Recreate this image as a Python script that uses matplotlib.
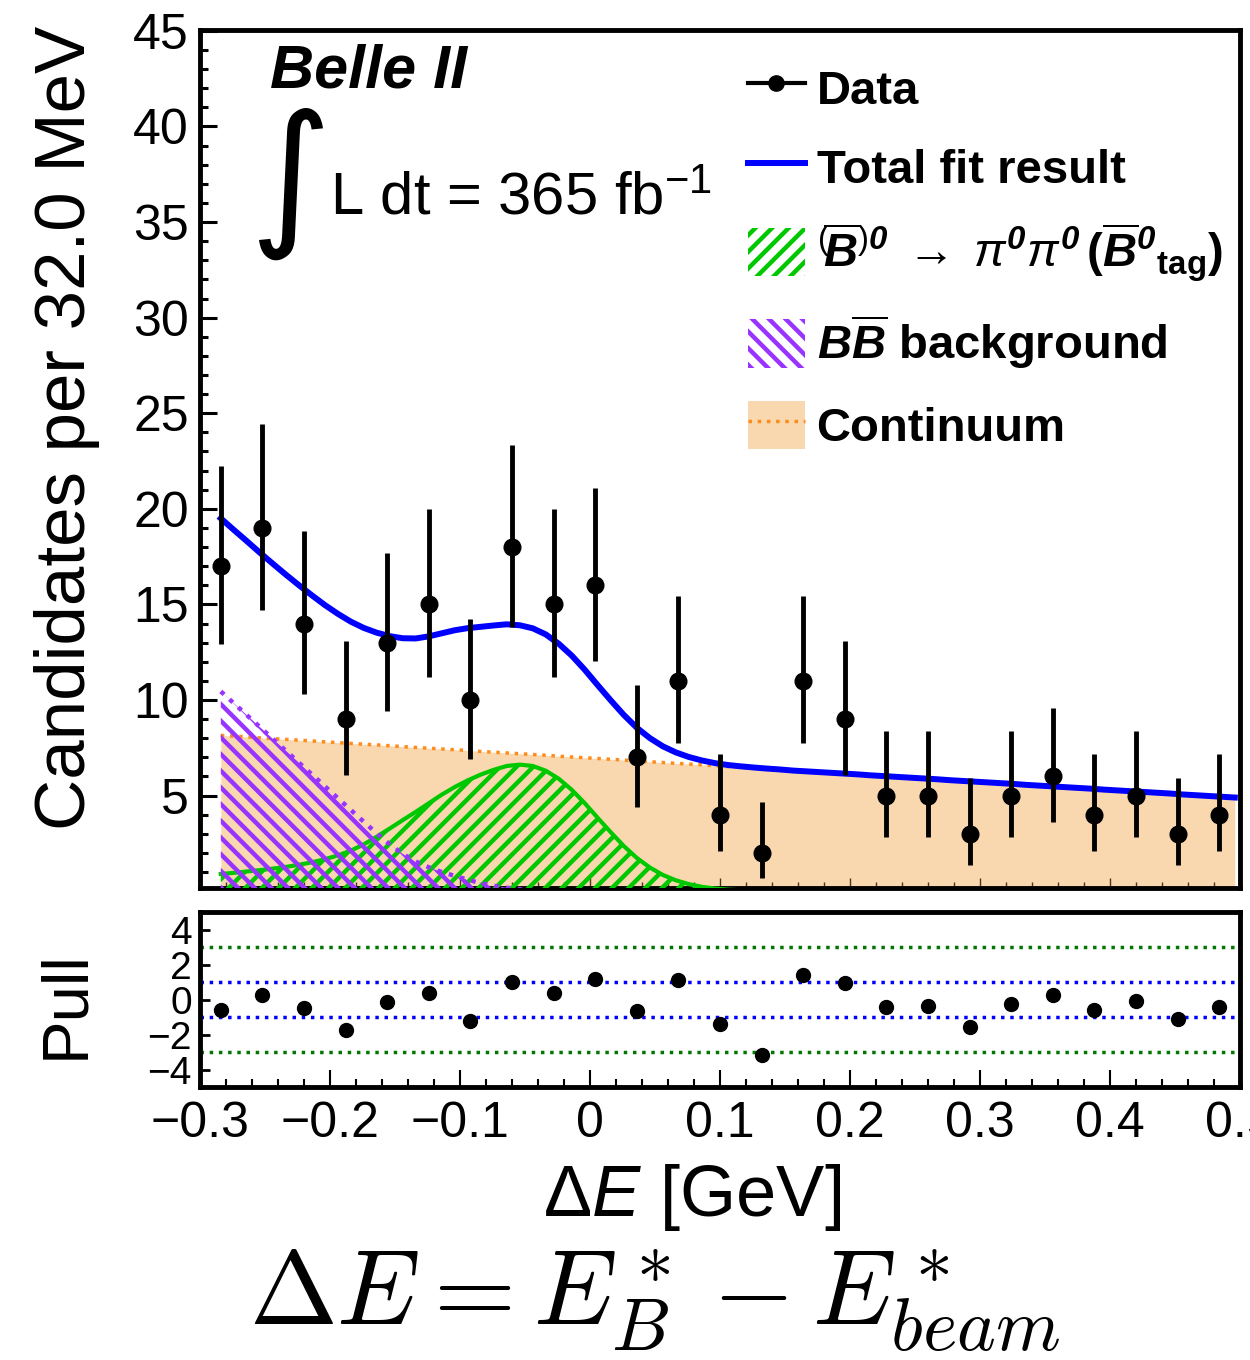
import numpy as np
import matplotlib
matplotlib.use('Agg')
import matplotlib.pyplot as plt
from matplotlib.patches import Patch
from matplotlib.lines import Line2D
from matplotlib.ticker import MultipleLocator

plt.rcParams['font.family'] = ['Liberation Sans', 'DejaVu Sans']
plt.rcParams['mathtext.fontset'] = 'custom'
plt.rcParams['mathtext.rm'] = 'Liberation Sans'
plt.rcParams['mathtext.it'] = 'Liberation Sans:italic'
plt.rcParams['mathtext.bf'] = 'Liberation Sans:bold:italic'
plt.rcParams['mathtext.sf'] = 'Liberation Sans:bold'
plt.rcParams['hatch.linewidth'] = 3.2

# binning of the Delta E histogram
bin_lo, bin_hi, n_bins = -0.3, 0.5, 25

counts = [17, 19, 14, 9, 13, 15, 10, 18, 15, 16, 7, 11, 4, 2, 11, 9, 5, 5, 3, 5, 6, 4, 5, 3, 4]
err_lo = [4.07, 4.30, 3.69, 2.94, 3.56, 3.82, 3.11, 4.19, 3.82, 3.95, 2.58, 3.26, 1.91,
          1.29, 3.26, 2.94, 2.16, 2.16, 1.63, 2.16, 2.38, 1.91, 2.16, 1.63, 1.91]
err_hi = [5.22, 5.45, 4.84, 4.11, 4.71, 4.97, 4.26, 5.34, 4.97, 5.10, 3.77, 4.42, 3.16,
          2.64, 4.42, 4.11, 3.38, 3.38, 2.92, 3.38, 3.58, 3.16, 3.38, 2.92, 3.16]
pulls = [-0.58, 0.24, -0.49, -1.76, -0.14, 0.39, -1.23, 1.0, 0.39, 1.19, -0.68, 1.1, -1.4,
         -3.19, 1.42, 0.96, -0.43, -0.37, -1.57, -0.24, 0.24, -0.62, -0.07, -1.13, -0.43]

# fit components sampled every 10 MeV from -0.284 to 0.496 GeV
curve_x = np.round(np.arange(-0.284, 0.5, 0.01), 3)
continuum = [8.15, 8.11, 8.07, 8.02, 7.98, 7.94, 7.90, 7.86, 7.81, 7.77,
             7.73, 7.69, 7.65, 7.61, 7.56, 7.52, 7.48, 7.44, 7.40, 7.36,
             7.31, 7.27, 7.23, 7.19, 7.15, 7.11, 7.06, 7.02, 6.98, 6.94,
             6.90, 6.86, 6.81, 6.77, 6.73, 6.69, 6.65, 6.61, 6.56, 6.52,
             6.48, 6.44, 6.40, 6.36, 6.31, 6.27, 6.23, 6.19, 6.15, 6.11,
             6.06, 6.02, 5.98, 5.94, 5.90, 5.86, 5.81, 5.77, 5.73, 5.69,
             5.65, 5.61, 5.56, 5.52, 5.48, 5.44, 5.40, 5.36, 5.31, 5.27,
             5.23, 5.19, 5.15, 5.11, 5.06, 5.02, 4.98, 4.94, 4.90]
signal = [0.90, 0.96, 1.03, 1.10, 1.18, 1.27, 1.38, 1.51, 1.67, 1.87,
          2.12, 2.45, 2.85, 3.28, 3.72, 4.15, 4.60, 5.05, 5.45, 5.80,
          6.10, 6.35, 6.55, 6.62, 6.55, 6.30, 5.88, 5.30, 4.60, 3.83,
          3.08, 2.36, 1.74, 1.24, 0.85, 0.57, 0.37, 0.23, 0.14, 0.08,
          0.05, 0.03, 0.015, 0.008] + [0.0] * 35
bbbar = [10.45, 9.83, 9.21, 8.59, 7.97, 7.35, 6.73, 6.11, 5.49, 4.87,
         4.25, 3.63, 3.02, 2.45, 1.95, 1.55, 1.25, 1.00, 0.80, 0.60,
         0.42, 0.28, 0.18, 0.10, 0.05, 0.02] + [0.0] * 53

centers = bin_lo + (np.arange(n_bins) + 0.5) * (bin_hi - bin_lo) / n_bins
total = np.array(continuum) + np.array(signal) + np.array(bbbar)

green = '#00c800'
purple = '#9933ff'
peach = '#f9d8b0'
orange = '#ff8c1a'

fig = plt.figure(figsize=(12.5, 13.6), dpi=100)
ax = fig.add_axes([0.16, 0.3471, 0.832, 0.6309])
axp = fig.add_axes([0.16, 0.2007, 0.832, 0.1287], sharex=ax)

# main panel
ax.fill_between(curve_x, 0, continuum, color=peach, lw=0, zorder=1)
ax.plot(curve_x, continuum, color=orange, ls=':', lw=2.5, zorder=2)
ax.fill_between(curve_x, 0, signal, facecolor='none', edgecolor=green, hatch='//', lw=0, zorder=3)
ax.plot(curve_x, signal, color=green, lw=3, zorder=3)
ax.fill_between(curve_x, 0, bbbar, facecolor='none', edgecolor=purple, hatch='\\\\', lw=0, zorder=4)
ax.plot(curve_x, bbbar, color=purple, ls=':', lw=3.2, zorder=4)
ax.plot(curve_x, total, color='#0000ff', lw=4.3, zorder=5)
ax.errorbar(centers, counts, yerr=[err_lo, err_hi], fmt='o', color='black',
            ms=12, elinewidth=3.5, capsize=0, zorder=6)

ax.set_xlim(bin_lo, bin_hi)
ax.set_ylim(0.17, 45.05)
ax.set_yticks([5, 10, 15, 20, 25, 30, 35, 40, 45])
ax.yaxis.set_minor_locator(MultipleLocator(1))
ax.xaxis.set_major_locator(MultipleLocator(0.1))
ax.xaxis.set_minor_locator(MultipleLocator(0.02))
ax.tick_params(axis='y', which='major', direction='in', length=12, width=2.2, labelsize=36, pad=8)
ax.tick_params(axis='y', which='minor', direction='in', length=6, width=2.2)
ax.tick_params(axis='x', which='major', direction='in', length=7, width=1, color='#4a3520', labelbottom=False)
ax.tick_params(axis='x', which='minor', direction='in', length=4, width=1, color='#4a3520')
for s in ax.spines.values():
    s.set_linewidth(3.5)
ax.set_ylabel('Candidates per 32.0 MeV', fontsize=51)
ax.yaxis.set_label_coords(-0.096, 0.536)

ax.text(0.067, 0.951, 'Belle II', transform=ax.transAxes, fontsize=44,
        fontweight='bold', fontstyle='italic', va='center', ha='left')
ax.text(0.083, 0.82, r'$\int$', transform=ax.transAxes, fontsize=80,
        math_fontfamily='dejavusans', va='center', ha='center')
ax.text(0.125, 0.784, r'L dt = 365 fb$^{\mathrm{-1}}$', transform=ax.transAxes,
        fontsize=43, va='baseline', ha='left')

handles = [
    Line2D([], [], color='black', marker='o', ms=11, lw=3),
    Line2D([], [], color='#0000ff', lw=4.3),
    Patch(facecolor='none', edgecolor=green, hatch='//', lw=0),
    Patch(facecolor='none', edgecolor=purple, hatch='\\\\', lw=0),
    (Patch(facecolor=peach, edgecolor='none'), Line2D([], [], color=orange, ls=':', lw=2.5)),
]
labels = [
    'Data',
    'Total fit result',
    r'${}^{(}\!\overline{\mathbf{B}}{}^{)\mathbf{0}}\;\rightarrow\;\pi^{\mathbf{0}}\pi^{\mathbf{0}}\,'
    r'\mathsf{(}\overline{\mathbf{B}}^{\mathbf{0}}{}_{\mathsf{tag}}\mathsf{)}$',
    r'$\mathbf{B\overline{B}}$ background',
    'Continuum',
]
ax.legend(handles, labels, loc='upper left', bbox_to_anchor=(0.527, 0.961), frameon=False,
          prop={'size': 34, 'weight': 'bold'}, handlelength=1.2, handleheight=1.2,
          handletextpad=0.25, labelspacing=0.62, borderpad=0, borderaxespad=0)

# pull panel
axp.axhline(3, color='#007700', ls=':', lw=2.5, zorder=1)
axp.axhline(-3, color='#007700', ls=':', lw=2.5, zorder=1)
axp.axhline(1, color='#0000ff', ls=':', lw=2.5, zorder=1)
axp.axhline(-1, color='#0000ff', ls=':', lw=2.5, zorder=1)
axp.plot(centers, pulls, 'o', color='black', ms=10, zorder=3)
axp.set_ylim(-5, 5)
axp.set_yticks([-4, -2, 0, 2, 4])
axp.set_yticklabels(['\u22124', '\u22122', '0', '2', '4'])
axp.tick_params(axis='y', which='major', direction='in', length=7, width=2, labelsize=28, pad=6)
axp.tick_params(axis='x', which='major', direction='in', length=12, width=1.5, labelsize=36, pad=10)
axp.tick_params(axis='x', which='minor', direction='in', length=6, width=1.5)
for s in axp.spines.values():
    s.set_linewidth(3.5)
axp.set_xticks(np.round(np.arange(-0.3, 0.51, 0.1), 1))
axp.set_xticklabels(['\u22120.3', '\u22120.2', '\u22120.1', '0', '0.1', '0.2', '0.3', '0.4', '0.5'])
axp.set_xlim(bin_lo, bin_hi)
axp.set_ylabel('Pull', fontsize=47)
axp.yaxis.set_label_coords(-0.1, 0.47)
axp.set_xlabel(r'$\Delta E$ [GeV]', fontsize=52)
axp.xaxis.label.set_va('center')
axp.xaxis.set_label_coords(0.473, -0.63)

fig.text(0.524, 0.043, r'$\Delta E = E^*_B - E^*_{beam}$', math_fontfamily='cm',
         fontsize=76, ha='center', va='center')

fig.savefig('out.png', dpi=100)
